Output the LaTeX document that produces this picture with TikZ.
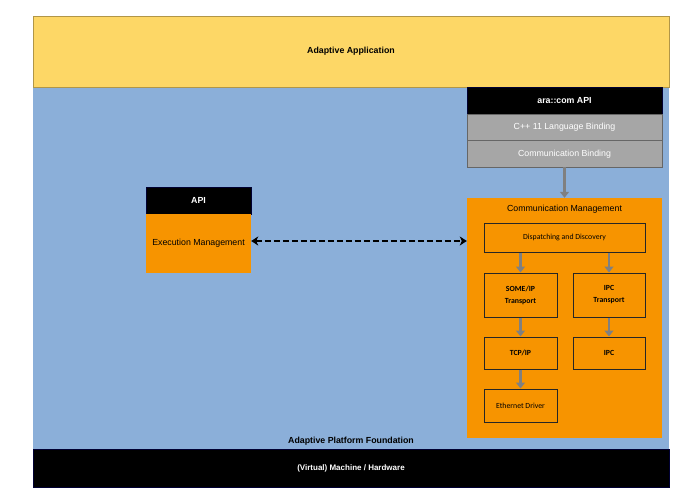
\documentclass[tikz,border=0pt]{standalone}
\usepackage{fontspec}
\setmainfont{Liberation Sans}
\newfontfamily\calib{Carlito}
\usetikzlibrary{arrows.meta}

\definecolor{appyellow}{RGB}{253,215,102}
\definecolor{fndblue}{RGB}{139,175,217}
\definecolor{cmorange}{RGB}{247,148,0}
\definecolor{bindgray}{RGB}{166,166,166}
\definecolor{arrgray}{RGB}{128,128,128}

\tikzset{
  blackbar/.style={fill=black,draw=black!80!blue,text=white,font=\bfseries\fontsize{8.8}{10}\selectfont,inner sep=0pt},
  bindbox/.style={fill=bindgray,draw=black!60,text=white,font=\fontsize{8.8}{10}\selectfont,inner sep=0pt,minimum width=195pt,minimum height=26.5pt},
  subbox/.style={draw=black!85,line width=1pt,inner sep=0pt,align=center,font=\calib\fontsize{7.8}{12}\selectfont},
  grayarr/.style={draw=arrgray,line width=2.8pt,-{Triangle[length=6pt,width=9pt]}},
}

\begin{document}
\begin{tikzpicture}[x=1pt,y=-1pt]
  \useasboundingbox (0,0) rectangle (678,493);
  % platform foundation
  \fill[fndblue] (33,87) rectangle (669,449);
  \node[font=\bfseries\fontsize{8.8}{10}\selectfont] (fndlabel) at (351,441) {Adaptive Platform Foundation};
  \node[fill=appyellow,draw=appyellow!70!black,minimum width=636pt,minimum height=71pt,
        font=\bfseries\fontsize{8.8}{10}\selectfont] (app) at (351,51.5) {Adaptive Application};
  \node[blackbar,minimum width=636pt,minimum height=38pt,font=\bfseries\fontsize{8}{10}\selectfont] (hw) at (351,468) {(Virtual) Machine / Hardware};

  % ara::com stack
  \node[blackbar,minimum width=195pt,minimum height=27pt] (aracom) at (564.5,100.5) {ara::com API};
  \node[bindbox] (cpp) at (564.5,127.25) {C++ 11 Language Binding};
  \node[bindbox] (cbind) at (564.5,153.75) {Communication Binding};

  % communication management
  \node[fill=cmorange,minimum width=195pt,minimum height=240pt] (cm) at (564.5,318) {};
  \node[font=\fontsize{8.8}{10}\selectfont] (cmlabel) at (564.5,209) {Communication Management};
  \node[subbox,minimum width=161pt,minimum height=29pt] (disp) at (564.5,237.5) {Dispatching and Discovery};
  \node[subbox,minimum width=73pt,minimum height=44pt,font=\calib\bfseries\fontsize{7.8}{12}\selectfont] (someip) at (520.5,295) {SOME/IP\\Transport};
  \node[subbox,minimum width=72pt,minimum height=44pt,font=\calib\bfseries\fontsize{7.8}{12}\selectfont] (ipct) at (609,295) {IPC\\Transport};
  \node[subbox,minimum width=73pt,minimum height=32pt,font=\calib\bfseries\fontsize{7.8}{12}\selectfont] (tcpip) at (520.5,353) {TCP/IP};
  \node[subbox,minimum width=72pt,minimum height=32pt,font=\calib\bfseries\fontsize{7.8}{12}\selectfont] (ipc) at (609,353) {IPC};
  \node[subbox,minimum width=73pt,minimum height=33pt] (eth) at (520.5,405.5) {Ethernet Driver};

  % execution management
  \node[blackbar,minimum width=105pt,minimum height=27pt] (api) at (198.5,200.5) {API};
  \node[fill=cmorange,minimum width=105pt,minimum height=59pt,inner sep=0pt,
        font=\fontsize{8.8}{10}\selectfont] (em) at (198.5,243.5) {Execution Management};

  \draw[grayarr] (cbind.south) -- (cm.north);
  \draw[grayarr] (disp.south -| someip) -- (someip.north);
  \draw[grayarr] (disp.south -| ipct) -- (ipct.north);
  \draw[grayarr] (someip.south) -- (tcpip.north);
  \draw[grayarr] (ipct.south) -- (ipc.north);
  \draw[grayarr] (tcpip.south) -- (eth.north);
  \draw[line width=2.4pt,dash pattern=on 6pt off 3pt,{Stealth[length=7pt,width=9pt,inset=2pt]}-{Stealth[length=7pt,width=9pt,inset=2pt]}]
    ([yshift=2.5pt]em.east) -- ([yshift=2.5pt]em.east -| cm.west);
\end{tikzpicture}
\end{document}
